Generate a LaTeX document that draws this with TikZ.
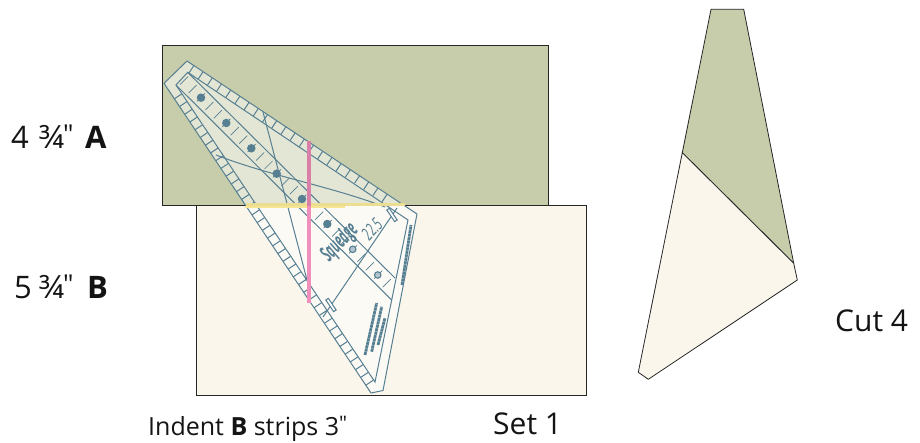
\documentclass[tikz,border=0pt]{standalone}
\usepackage{fontspec}
\setmainfont{Open Sans}
\newfontfamily\plainf{Open Sans}
\usetikzlibrary{calc}
\definecolor{fabA}{HTML}{C7CDAA}
\definecolor{fabB}{HTML}{FAF6EC}
\definecolor{rul}{HTML}{567F92}
\definecolor{pinkD}{HTML}{D97FA8}
\definecolor{pinkL}{HTML}{F08FBB}
\definecolor{yelD}{HTML}{EBDD92}
\definecolor{yelL}{HTML}{F6E694}
\tikzset{
  x=1pt,y=-1pt,
  strip/.style={draw=black!85,line width=1pt},
  piece/.style={draw=black!85,line width=0.8pt,line join=round},
  rline/.style={draw=rul,line width=1pt},
  rtick/.style={draw=rul,line width=0.7pt},
  rblob/.style={draw=rul,line width=2.8pt,dash pattern=on 3pt off .5pt},
  lab/.style={inner sep=0pt,anchor=base west,text=black!92},
  rdot/.style={fill=rul,draw=none,circle,minimum size=8.5pt,inner sep=0pt},
  ringdot/.style={draw=rul,line width=1.1pt,fill=rul!45,circle,inner sep=0pt,minimum size=6.5pt}
}
\newcommand{\Lbl}[3]{\node[lab,font=\fontsize{#1}{#1}\selectfont] at (#2) {#3};}
\begin{document}
\begin{tikzpicture}
\useasboundingbox (0,0) rectangle (920,443);
\fill[white] (0,0) rectangle (920,443);
% strips
\draw[strip,fill=fabB] (196,206) rectangle (586,395);
\draw[strip,fill=fabA] (162,46) rectangle (548,206);
% ruler body
\coordinate (oa) at (187,61);
\coordinate (ob) at (417,214);
\coordinate (oc) at (383,390.5);
\coordinate (od) at (371,393);
\coordinate (oe) at (164,83.3);
\coordinate (ia) at (187.7,72.3);
\coordinate (ib) at (176,85);
\coordinate (ic) at (408,220);
\coordinate (id) at (375,382);
\fill[white,opacity=.5] (oa) -- (ob) -- (oc) -- (od) -- (oe) -- cycle;
\draw[rline,line join=round] (oa) -- (ob) -- (oc) -- (od) -- (oe) -- cycle;
\draw[rline] (ib) -- (ia) -- (ic) -- (id) -- cycle;
% ticks along the top edge
\foreach \t in {0.03,0.07,...,0.9}{
  \draw[rline] ($(oa)!\t!(ob)$) -- ($(oa)!\t!(ob)+(-5,7.5)$);
}
% ticks along the lower left edge
\foreach \t in {0.05,0.075,...,0.985}{
  \draw[rline] ($(oe)!\t!(od)$) -- ($(oe)!\t!(od)+(7.5,-5)$);
}
% central band
\draw[rline] (ia) -- (395,278);
\draw[rline] (ib) -- (391.7,300);
% other guide lines
\draw[rline] (263,112) -- (307,280);
\draw[rline] (216,155) .. controls (270,176) and (330,186) .. (385,207);
\draw[rline] (323,317) -- (397,208);
% capsules at the ends of the diagonal
\draw[rline,fill=white,rotate around={-56:(331,305)}] (324,303.5) rectangle (338,306.5);
\draw[rline,fill=white,rotate around={-56:(392,215)}] (385,213.5) rectangle (399,216.5);
% centre-line ticks
\foreach \k in {0,...,24}{
  \coordinate (cc) at ({184.1+8.44*\k},{80.6+8.44*\k});
  \draw[rtick] ($(cc)+(-4,4)$) -- ($(cc)+(4,-4)$);
}
% dots
\foreach \x/\y in {201/97.7,226.3/123,251.3/148.3,276.7/173.7,302/199,327.3/224}{
  \node[rdot] at (\x,\y) {};
}
\foreach \x/\y in {352.7/249.3,377.7/275}{
  \node[ringdot] at (\x,\y) {};
}
% ruler logo
\node[text=rul,font=\fontsize{22}{22}\selectfont\bfseries\itshape,rotate=47,xscale=.5,inner sep=0pt] (logo) at (340,243) {Squedge};
\node[text=rul,font=\fontsize{18}{18}\selectfont\itshape,rotate=47,xscale=.62,inner sep=0pt] (deg) at (372,229) {22.5};
% printed small lines on the ruler
\draw[rblob] (402,285) -- (411,225);
\draw[rblob] (365,355) -- (376.7,303);
\draw[rblob] (371.7,351.7) -- (381.7,306.7);
\draw[rblob] (378,345) -- (385,318);
% yellow and pink
\draw[yelL,line width=1.8pt] (245,207) -- (345,207);
\draw[yelD,line width=3pt] (246,204.5) -- (405,204.5);
\draw[pinkD,line width=4pt] (309.3,141.5) -- (309.3,206);
\draw[pinkL,line width=4pt] (309.3,206) -- (309.3,303);
% cut piece
\draw[piece,fill=fabA] (711,9.3) -- (743.7,9.3) -- (793.7,263.3) -- (682.3,152.7) -- cycle;
\draw[piece,fill=fabB] (682.3,152.7) -- (793.7,263.3) -- (797.3,280) -- (648.3,379.3) -- (638.3,372.3) -- cycle;
% labels
\Lbl{31}{11,148.3}{4}
\Lbl{32}{39,148.3}{¾}
\Lbl{26}{63,143.5}{\plainf"}
\Lbl{31}{85,148.3}{\textbf{A}}
\Lbl{31}{14,299}{5}
\Lbl{32}{39,299}{¾}
\Lbl{26}{63,293.5}{\plainf"}
\Lbl{31}{87,299}{\textbf{B}}
\Lbl{25}{148,435}{Indent \textbf{B} strips 3\raisebox{5pt}{\fontsize{20}{20}\plainf"}}
\Lbl{30}{493,434.3}{Set 1}
\Lbl{30}{835,331}{Cut 4}
\end{tikzpicture}
\end{document}
